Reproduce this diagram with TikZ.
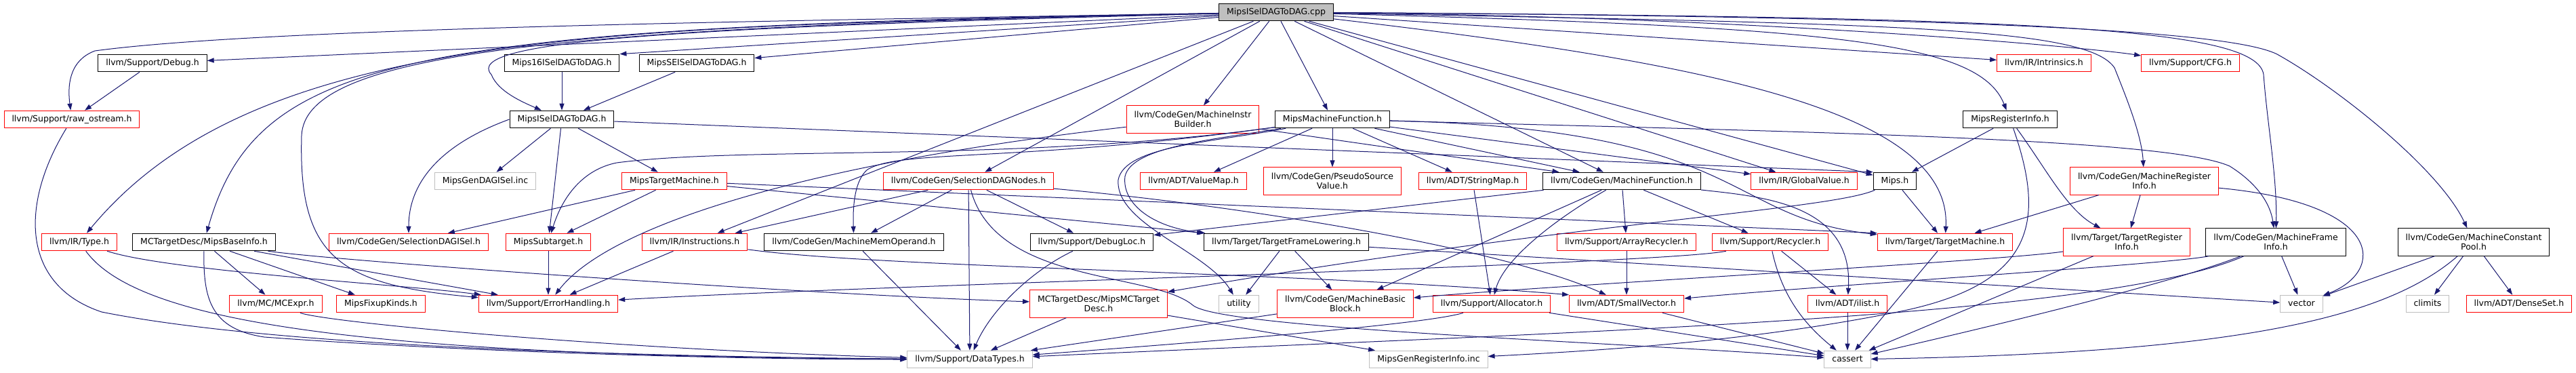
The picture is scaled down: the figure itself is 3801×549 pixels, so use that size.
\documentclass[tikz,border=0pt]{standalone}
\usepackage{fontspec}
\setmainfont{DejaVu Sans}
\usetikzlibrary{arrows.meta}
\definecolor{dox_edge}{RGB}{25, 25, 112}
\definecolor{dox_grey}{RGB}{191, 191, 191}
\definecolor{dox_red}{RGB}{255, 0, 0}
\tikzstyle{box}=[rectangle, draw=black, line width=1pt, inner xsep=11.5pt, inner ysep=0pt,
  minimum height=25.6pt, text height=9.5pt, text depth=3pt, font=\fontsize{12.5}{14.5}\selectfont]
\tikzstyle{hn}=[box]
\tikzstyle{tn}=[box, draw=dox_red]
\tikzstyle{sn}=[box, draw=dox_grey]
\tikzstyle{src}=[box, fill=dox_grey]
\tikzstyle{twol}=[align=center, text height={}, text depth={}, inner ysep=8pt]
\tikzstyle{dep}=[draw=dox_edge, line width=1pt, -{Triangle[length=10pt, width=7pt]}]
\begin{document}
\begin{tikzpicture}[x=1pt, y=-1pt]
    \useasboundingbox (0, 0) rectangle (3801, 549);
            \node [style=src] (cpp) at (1883, 18) {MipsISelDAGToDAG.cpp};
            \node [style=hn] (debug) at (225, 93) {llvm/Support/Debug.h};
            \node [style=hn] (mips16) at (829, 93) {Mips16ISelDAGToDAG.h};
            \node [style=hn] (mipsse) at (1028, 93) {MipsSEISelDAGToDAG.h};
            \node [style=tn] (intr) at (3016, 93) {llvm/IR/Intrinsics.h};
            \node [style=tn] (cfg) at (3232, 93) {llvm/Support/CFG.h};
            \node [style=tn] (raw) at (106, 176) {llvm/Support/raw\_ostream.h};
            \node [style=hn] (misel) at (829, 176) {MipsISelDAGToDAG.h};
            \node [style=tn, style=twol] (mib) at (1760, 176) {llvm/CodeGen/MachineInstr\\Builder.h};
            \node [style=hn] (mmf) at (1966, 176) {MipsMachineFunction.h};
            \node [style=hn] (mipsreg) at (2966, 176) {MipsRegisterInfo.h};
            \node [style=sn] (mgdi) at (716, 267) {MipsGenDAGISel.inc};
            \node [style=tn] (mtm) at (995, 267) {MipsTargetMachine.h};
            \node [style=tn] (sdn) at (1429, 267) {llvm/CodeGen/SelectionDAGNodes.h};
            \node [style=tn] (vmap) at (1761, 267) {llvm/ADT/ValueMap.h};
            \node [style=tn, style=twol] (psv) at (1966, 267) {llvm/CodeGen/PseudoSource\\Value.h};
            \node [style=tn] (smap) at (2173, 267) {llvm/ADT/StringMap.h};
            \node [style=hn] (mf) at (2393, 267) {llvm/CodeGen/MachineFunction.h};
            \node [style=tn] (gv) at (2662, 267) {llvm/IR/GlobalValue.h};
            \node [style=hn] (mips) at (2796, 267) {Mips.h};
            \node [style=tn, style=twol] (machreg) at (3164, 267) {llvm/CodeGen/MachineRegister\\Info.h};
            \node [style=tn] (type) at (117, 357) {llvm/IR/Type.h};
            \node [style=hn] (mbi) at (301, 357) {MCTargetDesc/MipsBaseInfo.h};
            \node [style=tn] (sdisel) at (603, 357) {llvm/CodeGen/SelectionDAGISel.h};
            \node [style=tn] (msub) at (809, 357) {MipsSubtarget.h};
            \node [style=tn] (instr) at (1025, 357) {llvm/IR/Instructions.h};
            \node [style=hn] (mmo) at (1260, 357) {llvm/CodeGen/MachineMemOperand.h};
            \node [style=hn] (dloc) at (1611, 357) {llvm/Support/DebugLoc.h};
            \node [style=hn] (tfl) at (1898, 357) {llvm/Target/TargetFrameLowering.h};
            \node [style=tn] (arec) at (2400, 357) {llvm/Support/ArrayRecycler.h};
            \node [style=tn] (recyc) at (2612, 357) {llvm/Support/Recycler.h};
            \node [style=tn] (tm) at (2870, 357) {llvm/Target/TargetMachine.h};
            \node [style=tn, style=twol] (tri) at (3138, 357) {llvm/Target/TargetRegister\\Info.h};
            \node [style=hn, style=twol] (mfi) at (3358, 357) {llvm/CodeGen/MachineFrame\\Info.h};
            \node [style=hn, style=twol] (mcp) at (3650, 357) {llvm/CodeGen/MachineConstant\\Pool.h};
            \node [style=tn] (mce) at (407, 448) {llvm/MC/MCExpr.h};
            \node [style=tn] (mfk) at (562, 448) {MipsFixupKinds.h};
            \node [style=tn] (errh) at (809, 448) {llvm/Support/ErrorHandling.h};
            \node [style=tn, style=twol] (mctd) at (1621, 448) {MCTargetDesc/MipsMCTarget\\Desc.h};
            \node [style=sn] (util) at (1828, 448) {utility};
            \node [style=tn, style=twol] (mbb) at (1985, 448) {llvm/CodeGen/MachineBasic\\Block.h};
            \node [style=tn] (alloc) at (2201, 448) {llvm/Support/Allocator.h};
            \node [style=tn] (sv) at (2400, 448) {llvm/ADT/SmallVector.h};
            \node [style=tn] (ilist) at (2726, 448) {llvm/ADT/ilist.h};
            \node [style=sn] (vec) at (3396, 448) {vector};
            \node [style=sn] (climits) at (3582, 448) {climits};
            \node [style=tn] (dset) at (3717, 448) {llvm/ADT/DenseSet.h};
            \node [style=sn] (dt) at (1431, 530) {llvm/Support/DataTypes.h};
            \node [style=sn] (mgri) at (2108, 530) {MipsGenRegisterInfo.inc};
            \node [style=sn] (cassert) at (2726, 530) {cassert};
            \draw [style=dep] (cpp) .. controls (1200, 30) and (400, 40) .. (140, 75) .. controls (100, 90) and (100, 130) .. (raw);
            \draw [style=dep] (cpp) to (debug);
            \draw [style=dep] (cpp) to (mips16.north east);
            \draw [style=dep] (cpp) to (mipsse);
            \draw [style=dep] (cpp) .. controls (1000, 40) and (680, 60) .. (725, 110) .. controls (735, 135) and (770, 150) .. (misel);
            \draw [style=dep] (cpp) .. controls (900, 40) and (380, 40) .. (type);
            \draw [style=dep] (cpp) .. controls (600, 40) and (380, 80) .. (mbi);
            \draw [style=dep] (cpp) .. controls (800, 40) and (450, 80) .. (445, 200) .. controls (440, 380) and (500, 420) .. (errh);
            \draw [style=dep] (cpp) to (mib);
            \draw [style=dep] (cpp) to (sdn);
            \draw [style=dep] (cpp) to (instr);
            \draw [style=dep] (cpp) to (mmf);
            \draw [style=dep] (cpp) to (mf);
            \draw [style=dep] (cpp) to (gv);
            \draw [style=dep] (cpp) to (mips);
            \draw [style=dep] (cpp) .. controls (2500, 90) and (2880, 160) .. (tm);
            \draw [style=dep] (cpp) .. controls (2700, 40) and (2920, 60) .. (mipsreg);
            \draw [style=dep] (cpp) to (intr);
            \draw [style=dep] (cpp) .. controls (2600, 25) and (3080, 70) .. (cfg);
            \draw [style=dep] (cpp) .. controls (2800, 35) and (3080, 40) .. (3120, 100) .. controls (3140, 150) and (3160, 200) .. (machreg);
            \draw [style=dep] (cpp) .. controls (3000, 25) and (3330, 40) .. (3340, 110) .. controls (3345, 180) and (3360, 260) .. (mfi);
            \draw [style=dep] (cpp) .. controls (3000, 25) and (3300, 50) .. (3360, 80) .. controls (3450, 130) and (3600, 250) .. (mcp);
            \draw [style=dep] (debug) to (raw);
            \draw [style=dep] (mips16) to (misel);
            \draw [style=dep] (mipsse) to (misel);
            \draw [style=dep] (raw) .. controls (30, 300) and (30, 420) .. (150, 460) .. controls (400, 510) and (900, 525) .. (dt);
            \draw [style=dep, out=200, in=90] (misel.west) to (sdisel);
            \draw [style=dep] (misel) to (mgdi);
            \draw [style=dep] (misel) to (msub);
            \draw [style=dep] (misel) to (mtm);
            \draw [style=dep] (misel) to (mips.north west);
            \draw [style=dep] (mib) to (mf);
            \draw [style=dep] (mib) .. controls (1200, 240) and (900, 330) .. (errh);
            \draw [style=dep] (mmf) .. controls (1500, 240) and (1100, 215) .. (910, 240) .. controls (860, 250) and (830, 290) .. (msub);
            \draw [style=dep] (mmf) .. controls (1500, 240) and (1330, 220) .. (1280, 250) .. controls (1262, 265) and (1258, 300) .. (mmo);
            \draw [style=dep] (mmf) .. controls (1800, 205) and (1670, 215) .. (1660, 260) .. controls (1655, 300) and (1700, 335) .. (tfl);
            \draw [style=dep] (mmf) .. controls (1790, 210) and (1660, 215) .. (1650, 265) .. controls (1645, 330) and (1780, 370) .. (util);
            \draw [style=dep] (mmf) to (vmap);
            \draw [style=dep] (mmf) to (psv);
            \draw [style=dep] (mmf) to (smap);
            \draw [style=dep] (mmf) to (mf);
            \draw [style=dep] (mmf) to (gv);
            \draw [style=dep] (mmf) .. controls (2580, 190) and (2540, 320) .. (tm);
            \draw [style=dep] (mmf) .. controls (2700, 195) and (3200, 205) .. (3290, 245) .. controls (3330, 270) and (3350, 300) .. (mfi);
            \draw [style=dep] (mipsreg) to (mips);
            \draw [style=dep] (mipsreg) .. controls (3020, 250) and (3050, 310) .. (tri);
            \draw [style=dep] (mipsreg) .. controls (3020, 330) and (3000, 420) .. (2800, 460) .. controls (2600, 500) and (2400, 515) .. (mgri);
            \draw [style=dep] (mtm) to (sdisel);
            \draw [style=dep] (mtm) to (msub);
            \draw [style=dep] (mtm) to (tfl.north west);
            \draw [style=dep] (mtm) to (tm.north west);
            \draw [style=dep] (sdn) to (instr);
            \draw [style=dep] (sdn) to (mmo);
            \draw [style=dep] (sdn) to (dt);
            \draw [style=dep] (sdn) to (dloc);
            \draw [style=dep] (sdn) .. controls (1800, 300) and (2200, 360) .. (sv);
            \draw [style=dep] (sdn) .. controls (1470, 420) and (1700, 400) .. (1760, 450) .. controls (1800, 485) and (2400, 505) .. (cassert);
            \draw [style=dep] (smap) to (alloc);
            \draw [style=dep] (mf) to (dloc);
            \draw [style=dep] (mf) to (mbb);
            \draw [style=dep] (mf) .. controls (2300, 320) and (2220, 380) .. (alloc);
            \draw [style=dep] (mf) to (arec);
            \draw [style=dep] (mf) to (recyc);
            \draw [style=dep] (mf) .. controls (2600, 290) and (2735, 300) .. (ilist);
            \draw [style=dep] (mips) .. controls (2700, 310) and (2300, 330) .. (mctd);
            \draw [style=dep] (mips) to (tm);
            \draw [style=dep] (machreg) to (tm);
            \draw [style=dep] (machreg) to (tri);
            \draw [style=dep] (machreg) .. controls (3520, 300) and (3520, 400) .. (vec);
            \draw [style=dep] (type) .. controls (250, 400) and (600, 420) .. (errh);
            \draw [style=dep] (type) .. controls (200, 470) and (500, 525) .. (dt);
            \draw [style=dep] (mbi) to (mce);
            \draw [style=dep] (mbi) to (mfk);
            \draw [style=dep] (mbi) to (errh);
            \draw [style=dep] (mbi) .. controls (500, 385) and (1200, 435) .. (mctd);
            \draw [style=dep] (mbi) .. controls (300, 440) and (310, 485) .. (390, 497) .. controls (700, 520) and (1100, 530) .. (dt);
            \draw [style=dep] (msub) to (errh);
            \draw [style=dep] (instr) to (errh);
            \draw [style=dep] (instr) .. controls (1300, 395) and (1900, 400) .. (sv.north west);
            \draw [style=dep] (mmo) to (dt);
            \draw [style=dep] (dloc) .. controls (1520, 400) and (1460, 460) .. (dt);
            \draw [style=dep] (tfl) to (util);
            \draw [style=dep] (tfl) to (mbb);
            \draw [style=dep] (tfl) to (vec);
            \draw [style=dep] (arec) to (sv);
            \draw [style=dep] (recyc) .. controls (2450, 390) and (1300, 420) .. (errh);
            \draw [style=dep] (recyc) to (ilist);
            \draw [style=dep] (recyc) .. controls (2630, 440) and (2665, 480) .. (cassert);
            \draw [style=dep] (tm) to (cassert);
            \draw [style=dep] (tri) .. controls (2950, 385) and (2300, 420) .. (mbb);
            \draw [style=dep] (tri) to (cassert);
            \draw [style=dep] (mfi) .. controls (3200, 390) and (2700, 420) .. (sv);
            \draw [style=dep] (mfi) .. controls (3100, 470) and (2300, 490) .. (dt);
            \draw [style=dep] (mfi) .. controls (3200, 420) and (2900, 490) .. (cassert);
            \draw [style=dep] (mfi) to (vec);
            \draw [style=dep] (mcp) to (vec);
            \draw [style=dep] (mcp) to (climits);
            \draw [style=dep] (mcp) to (dset);
            \draw [style=dep] (mcp) .. controls (3520, 470) and (3300, 520) .. (cassert);
            \draw [style=dep] (mce) .. controls (480, 475) and (900, 515) .. (dt);
            \draw [style=dep] (mctd) to (dt);
            \draw [style=dep] (mctd) to (mgri);
            \draw [style=dep] (mbb) to (dt);
            \draw [style=dep] (alloc) .. controls (2100, 480) and (1700, 510) .. (dt);
            \draw [style=dep] (alloc) to (cassert);
            \draw [style=dep] (sv) to (cassert);
            \draw [style=dep] (ilist) to (cassert);
    \end{tikzpicture}
\end{document}
